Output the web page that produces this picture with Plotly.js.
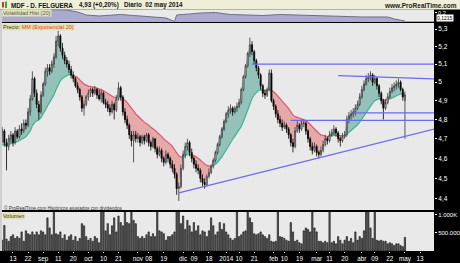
<!DOCTYPE html>
<html><head><meta charset="utf-8">
<script src="https://cdn.plot.ly/plotly-3.0.1.min.js"></script>
<style>html,body{margin:0;padding:0;background:#000;}#chart{width:460px;height:263px;}</style>
</head><body><div id="chart"></div>
<script>
const dates = [
"2013-08-06","2013-08-07","2013-08-08","2013-08-09","2013-08-12","2013-08-13","2013-08-14","2013-08-15","2013-08-16","2013-08-19","2013-08-20","2013-08-21","2013-08-22","2013-08-23","2013-08-26","2013-08-27","2013-08-28","2013-08-29","2013-08-30",
"2013-09-02","2013-09-03","2013-09-04","2013-09-05","2013-09-06","2013-09-09","2013-09-10","2013-09-11","2013-09-12","2013-09-13","2013-09-16","2013-09-17","2013-09-18","2013-09-19","2013-09-20","2013-09-23","2013-09-24","2013-09-25","2013-09-26","2013-09-27","2013-09-30",
"2013-10-01","2013-10-02","2013-10-03","2013-10-04","2013-10-07","2013-10-08","2013-10-09","2013-10-10","2013-10-11","2013-10-14","2013-10-15","2013-10-16","2013-10-17","2013-10-18","2013-10-21","2013-10-22","2013-10-23","2013-10-24","2013-10-25","2013-10-28","2013-10-29","2013-10-30","2013-10-31",
"2013-11-01","2013-11-04","2013-11-05","2013-11-06","2013-11-07","2013-11-08","2013-11-11","2013-11-12","2013-11-13","2013-11-14","2013-11-15","2013-11-18","2013-11-19","2013-11-20","2013-11-21","2013-11-22","2013-11-25","2013-11-26","2013-11-27","2013-11-28","2013-11-29",
"2013-12-02","2013-12-03","2013-12-04","2013-12-05","2013-12-06","2013-12-09","2013-12-10","2013-12-11","2013-12-12","2013-12-13","2013-12-16","2013-12-17","2013-12-18","2013-12-19","2013-12-20","2013-12-23","2013-12-24","2013-12-27","2013-12-30","2013-12-31",
"2014-01-02","2014-01-03","2014-01-06","2014-01-07","2014-01-08","2014-01-09","2014-01-10","2014-01-13","2014-01-14","2014-01-15","2014-01-16","2014-01-17","2014-01-20","2014-01-21","2014-01-22","2014-01-23","2014-01-24","2014-01-27","2014-01-28","2014-01-29","2014-01-30","2014-01-31",
"2014-02-03","2014-02-04","2014-02-05","2014-02-06","2014-02-07","2014-02-10","2014-02-11","2014-02-12","2014-02-13","2014-02-14","2014-02-17","2014-02-18","2014-02-19","2014-02-20","2014-02-21","2014-02-24","2014-02-25","2014-02-26","2014-02-27","2014-02-28",
"2014-03-03","2014-03-04","2014-03-05","2014-03-06","2014-03-07","2014-03-10","2014-03-11","2014-03-12","2014-03-13","2014-03-14","2014-03-17","2014-03-18","2014-03-19","2014-03-20","2014-03-21","2014-03-24","2014-03-25","2014-03-26","2014-03-27","2014-03-28","2014-03-31",
"2014-04-01","2014-04-02","2014-04-03","2014-04-04","2014-04-07","2014-04-08","2014-04-09","2014-04-10","2014-04-11","2014-04-14","2014-04-15","2014-04-16","2014-04-17","2014-04-22","2014-04-23","2014-04-24","2014-04-25","2014-04-28","2014-04-29","2014-04-30",
"2014-05-02"];

const openP = [
4.72,4.74,4.68,4.66,4.70,4.72,4.68,4.74,4.71,4.75,
4.74,4.78,4.77,4.84,4.91,5.02,4.94,4.88,4.84,4.93,
4.99,5.06,5.08,5.06,5.10,5.14,5.23,5.26,5.19,5.15,
5.12,5.10,5.07,5.04,5.02,4.98,4.96,4.92,4.86,4.88,
4.92,4.94,4.96,4.94,4.96,4.93,4.91,4.94,4.89,4.88,
4.86,4.84,4.88,4.85,4.91,4.97,4.92,4.84,4.80,4.77,
4.72,4.69,4.72,4.70,4.71,4.68,4.71,4.69,4.72,4.68,
4.66,4.70,4.65,4.62,4.64,4.60,4.58,4.62,4.60,4.57,
4.55,4.52,4.45,4.46,4.55,4.62,4.66,4.68,4.63,4.60,
4.57,4.55,4.54,4.50,4.48,4.47,4.51,4.53,4.56,4.59,
4.63,4.67,4.71,4.75,4.79,4.83,4.85,4.86,4.84,4.86,
4.87,4.89,4.96,5.03,5.09,5.16,5.21,5.17,5.12,5.08,
5.04,4.98,4.94,4.93,4.96,5.05,4.90,4.87,4.83,4.80,
4.78,4.76,4.77,4.75,4.72,4.68,4.66,4.74,4.77,4.75,
4.78,4.78,4.74,4.70,4.66,4.64,4.66,4.63,4.62,4.64,
4.67,4.70,4.69,4.72,4.73,4.75,4.73,4.70,4.69,4.71,
4.72,4.80,4.82,4.83,4.84,4.86,4.88,4.92,4.96,4.99,
5.02,5.03,5.04,5.00,5.02,4.98,4.94,4.90,4.86,4.89,
4.92,4.95,4.97,4.98,4.99,5.00,4.96,4.90];
const highP = [
4.76,4.75,4.70,4.72,4.74,4.73,4.76,4.75,4.77,4.78,
4.80,4.80,4.86,4.93,5.06,5.03,4.96,4.90,4.95,5.00,
5.08,5.10,5.10,5.12,5.16,5.26,5.29,5.27,5.22,5.17,
5.14,5.12,5.09,5.06,5.03,5.00,4.97,4.93,4.90,4.93,
4.96,4.97,4.97,4.98,4.97,4.96,4.96,4.95,4.91,4.90,
4.88,4.90,4.89,4.93,5.00,4.98,4.93,4.86,4.82,4.78,
4.74,4.74,4.74,4.73,4.72,4.72,4.72,4.73,4.73,4.69,
4.71,4.70,4.66,4.66,4.65,4.61,4.64,4.63,4.61,4.59,
4.57,4.53,4.48,4.57,4.64,4.68,4.70,4.69,4.65,4.61,
4.59,4.57,4.55,4.52,4.50,4.52,4.55,4.57,4.60,4.64,
4.68,4.72,4.76,4.80,4.84,4.87,4.88,4.87,4.87,4.89,
4.91,4.97,5.04,5.10,5.17,5.25,5.23,5.18,5.13,5.09,
5.05,4.99,4.96,4.97,5.07,5.07,4.91,4.88,4.85,4.82,
4.80,4.79,4.78,4.76,4.73,4.70,4.76,4.79,4.78,4.80,
4.80,4.79,4.75,4.71,4.68,4.68,4.67,4.64,4.66,4.69,
4.72,4.71,4.74,4.75,4.77,4.76,4.74,4.71,4.73,4.74,
4.82,4.84,4.85,4.86,4.88,4.90,4.94,4.98,5.01,5.04,
5.05,5.06,5.05,5.04,5.03,4.99,4.95,4.91,4.91,4.94,
4.97,4.99,5.00,5.01,5.02,5.01,4.97,4.95];
const lowP = [
4.68,4.66,4.54,4.64,4.68,4.66,4.67,4.70,4.70,4.72,
4.73,4.75,4.76,4.82,4.90,4.92,4.86,4.80,4.83,4.92,
4.98,5.03,5.04,5.05,5.08,5.13,5.20,5.17,5.13,5.10,
5.08,5.05,5.02,5.00,4.97,4.94,4.90,4.84,4.82,4.87,
4.90,4.92,4.92,4.93,4.91,4.90,4.89,4.88,4.86,4.84,
4.82,4.83,4.80,4.84,4.90,4.90,4.82,4.78,4.75,4.70,
4.66,4.58,4.68,4.68,4.66,4.67,4.67,4.68,4.66,4.64,
4.65,4.63,4.60,4.61,4.58,4.56,4.57,4.58,4.55,4.53,
4.50,4.42,4.39,4.45,4.54,4.60,4.64,4.61,4.58,4.55,
4.53,4.52,4.48,4.46,4.45,4.46,4.50,4.52,4.55,4.58,
4.62,4.66,4.70,4.74,4.78,4.81,4.83,4.82,4.83,4.84,
4.86,4.88,4.95,5.02,5.08,5.14,5.15,5.10,5.06,5.02,
4.96,4.92,4.91,4.92,4.95,4.89,4.85,4.81,4.78,4.76,
4.74,4.75,4.73,4.70,4.66,4.63,4.65,4.73,4.73,4.74,
4.76,4.72,4.68,4.64,4.62,4.63,4.61,4.60,4.61,4.63,
4.66,4.67,4.68,4.71,4.72,4.71,4.68,4.66,4.68,4.70,
4.71,4.78,4.80,4.81,4.82,4.85,4.87,4.91,4.95,4.98,
5.00,5.01,4.98,4.99,4.96,4.92,4.88,4.80,4.85,4.88,
4.91,4.94,4.95,4.96,4.97,4.95,4.90,4.70];
const closeP = [
4.74,4.68,4.66,4.70,4.72,4.68,4.74,4.71,4.75,4.74,
4.78,4.77,4.84,4.91,5.02,4.94,4.88,4.84,4.93,4.99,
5.06,5.08,5.06,5.10,5.14,5.23,5.26,5.19,5.15,5.12,
5.10,5.07,5.04,5.02,4.98,4.96,4.92,4.86,4.88,4.92,
4.94,4.96,4.94,4.96,4.93,4.91,4.94,4.89,4.88,4.86,
4.84,4.88,4.85,4.91,4.97,4.92,4.84,4.80,4.77,4.72,
4.69,4.72,4.70,4.71,4.68,4.71,4.69,4.72,4.68,4.66,
4.70,4.65,4.62,4.64,4.60,4.58,4.62,4.60,4.57,4.55,
4.52,4.45,4.46,4.55,4.62,4.66,4.68,4.63,4.60,4.57,
4.55,4.54,4.50,4.48,4.47,4.51,4.53,4.56,4.59,4.63,
4.67,4.71,4.75,4.79,4.83,4.85,4.86,4.84,4.86,4.87,
4.89,4.96,5.03,5.09,5.16,5.21,5.17,5.12,5.08,5.04,
4.98,4.94,4.93,4.96,5.05,4.90,4.87,4.83,4.80,4.78,
4.76,4.77,4.75,4.72,4.68,4.66,4.74,4.77,4.75,4.78,
4.78,4.74,4.70,4.66,4.64,4.66,4.63,4.62,4.64,4.67,
4.70,4.69,4.72,4.73,4.75,4.73,4.70,4.69,4.71,4.72,
4.80,4.82,4.83,4.84,4.86,4.88,4.92,4.96,4.99,5.02,
5.03,5.04,5.00,5.02,4.98,4.94,4.90,4.86,4.89,4.92,
4.95,4.97,4.98,4.99,5.00,4.96,4.92,4.93];
// volume in thousands of shares
const volumeK = [
300,710,330,270,400,450,350,400,350,530,
270,560,480,450,530,450,530,450,560,530,
450,920,640,450,1300,480,450,530,350,450,
300,400,450,300,400,270,350,760,700,400,
300,350,270,400,350,230,1300,1200,560,760,
450,700,920,530,970,790,700,1250,790,760,
1300,850,760,400,350,400,350,450,530,400,
480,400,1200,560,530,480,300,400,400,450,
530,1400,1300,760,970,600,850,700,530,790,
560,700,450,560,530,400,560,920,700,450,
530,790,600,760,530,450,350,300,350,1250,
400,450,530,560,1300,920,790,480,450,480,
530,450,400,350,450,270,250,270,1200,400,
380,350,300,270,790,530,270,300,230,200,
560,640,600,530,1200,640,530,270,270,230,
270,230,1100,230,270,200,400,300,200,300,
400,270,350,230,530,300,400,350,560,1250,
1200,640,350,1150,300,280,300,270,270,200,
230,200,150,200,200,150,120,380];
// historical volatility (20)
const volDates = ["2013-08-06","2013-08-16","2013-09-02","2013-09-10","2013-09-17","2013-09-24","2013-09-30","2013-10-08","2013-10-15","2013-10-22","2013-10-30","2013-11-11","2013-11-20","2013-11-26","2013-11-27","2013-12-05","2013-12-12","2013-12-23","2014-01-06","2014-01-16","2014-01-27","2014-02-06","2014-02-18","2014-02-28","2014-03-11","2014-03-20","2014-04-01","2014-04-17","2014-04-24","2014-05-02"];
const volatility = [0.178,0.203,0.246,0.250,0.246,0.212,0.161,0.144,0.161,0.169,0.152,0.127,0.110,0.050,0.161,0.178,0.195,0.203,0.169,0.161,0.152,0.169,0.161,0.144,0.135,0.127,0.127,0.127,0.093,0.058];
const emaPeriod = 20;
const emaSeed = 4.66;
// drawn trend lines
const lineA_dates = ["2014-01-20","2014-05-23"], lineA_prices = [5.10,5.10];
const lineB_dates = ["2014-03-17","2014-05-23"], lineB_prices = [5.036,5.018];
const lineC_dates = ["2014-03-26","2014-05-23"], lineC_prices = [4.835,4.835];
const lineD_dates = ["2014-02-13","2014-05-23"], lineD_prices = [4.795,4.795];
const lineE_dates = ["2013-11-28","2014-05-23"], lineE_prices = [4.429,4.754];
// axis ticks
const tickDates = ["2013-08-13","2013-08-22","2013-09-02","2013-09-11","2013-09-20","2013-10-01","2013-10-10","2013-10-21","2013-11-01","2013-11-08","2013-11-19","2013-12-02","2013-12-09","2013-12-18","2014-01-02","2014-01-10","2014-01-21","2014-02-03","2014-02-10","2014-02-19","2014-03-03","2014-03-11","2014-03-20","2014-04-01","2014-04-09","2014-04-22","2014-05-02","2014-05-13"];
const tickText = ["13","22","sep","11","20","oct","10","21","nov","08","19","dic","09","18","2014","10","21","feb","10","19","mar","11","20","abr","09","22","may","13"];
const priceTicks = [4.4,4.5,4.6,4.7,4.8,4.9,5.0,5.1,5.2,5.3];
const priceTickText = ["4,4","4,5","4,6","4,7","4,8","4,9","5","5,1","5,2","5,3"];
const holidays = ["2013-12-25","2013-12-26","2014-01-01","2014-04-18","2014-04-21","2014-05-01"];

// ---- EMA ----
const alpha = 2/(emaPeriod+1);
const ema = []; let prev = emaSeed;
for (let i=0;i<closeP.length;i++){ prev = prev + alpha*(closeP[i]-prev); ema.push(prev); }

const DAY = 86400000;
function shiftDate(d, frac){ const t = Date.parse(d+"T00:00:00Z") + frac*DAY; return new Date(t).toISOString().slice(0,19).replace("T"," "); }

const segs = []; let cur = null;
for (let i=0;i<closeP.length;i++){
  const d = closeP[i]-ema[i]; const up = d>=0;
  if(!cur){ cur={up:up,x:[dates[i]],e:[ema[i]],c:[closeP[i]]}; continue; }
  if(up===cur.up){ cur.x.push(dates[i]); cur.e.push(ema[i]); cur.c.push(closeP[i]); }
  else {
    const d0 = closeP[i-1]-ema[i-1]; const t = d0/(d0-d);
    const xc = shiftDate(dates[i-1], t); const yc = ema[i-1]+t*(ema[i]-ema[i-1]);
    cur.x.push(xc); cur.e.push(yc); cur.c.push(yc); segs.push(cur);
    cur = {up:up,x:[xc,dates[i]],e:[yc,ema[i]],c:[yc,closeP[i]]};
  }
}
segs.push(cur);

const GREEN_FILL = "#94c1b9", RED_FILL = "#e6a9aa", GREEN_LINE = "#3cb48e", RED_LINE = "#e0566e";
const traces = [];
traces.push({x:volDates, y:volatility, type:"scatter", mode:"lines", yaxis:"y2", xaxis:"x",
  line:{color:"#6e6e80", width:1}, fill:"tozeroy", fillcolor:"#aaaad0", hoverinfo:"skip"});
segs.forEach(s=>{
  traces.push({x:s.x, y:s.e, type:"scatter", mode:"lines", yaxis:"y", line:{width:0, color:"rgba(0,0,0,0)"}, hoverinfo:"skip"});
  traces.push({x:s.x, y:s.c, type:"scatter", mode:"lines", yaxis:"y", line:{width:0, color:"rgba(0,0,0,0)"}, fill:"tonexty", fillcolor: s.up?GREEN_FILL:RED_FILL, hoverinfo:"skip"});
});
segs.forEach(s=>{
  traces.push({x:s.x, y:s.e, type:"scatter", mode:"lines", yaxis:"y", line:{width:1.2, color: s.up?GREEN_LINE:RED_LINE}, hoverinfo:"skip"});
});
traces.push({type:"candlestick", x:dates, open:openP, high:highP, low:lowP, close:closeP, xaxis:"x", yaxis:"y4",
  increasing:{fillcolor:"#ffffff", line:{color:"#333333", width:0.8}},
  decreasing:{fillcolor:"#000000", line:{color:"#000000", width:0.8}},
  whiskerwidth:0, hoverinfo:"skip"});
[[lineA_dates,lineA_prices],[lineB_dates,lineB_prices],[lineC_dates,lineC_prices],[lineD_dates,lineD_prices],[lineE_dates,lineE_prices]].forEach(l=>{
  traces.push({x:l[0], y:l[1], type:"scatter", mode:"lines", yaxis:"y4", line:{color:"#6b6bf0", width:1.2}, hoverinfo:"skip"});
});
traces.push({x:dates, y:volumeK.map(v=>v*1000), type:"bar", yaxis:"y3", xaxis:"x",
  marker:{color:"#6a6a6a", line:{color:"#000000", width:0.6}}, width:0.6*DAY, hoverinfo:"skip"});

const H = 263, W = 460;
const py = p => 1 - p/H; const px = p => p/W;
const font = "Liberation Sans, Arial, sans-serif";
const priceRange = [Math.log10(4.347), Math.log10(5.335)];
const yTickCommon = {side:"right", ticks:"outside", ticklen:2, tickcolor:"#ffffff", tickfont:{family:font, size:6.5, color:"#ffffff"}, showgrid:false, zeroline:false, showline:false, fixedrange:true};

const layout = {
  width:W, height:H, margin:{l:0,r:0,t:0,b:0}, paper_bgcolor:"#000000", plot_bgcolor:"#e9e9e9",
  showlegend:false, separators:",.", bargap:0,
  xaxis:{type:"date", domain:[px(2), px(434)], anchor:"y3", range:["2013-08-05 21:36","2014-05-21 12:00"],
    rangeslider:{visible:false},
    rangebreaks:[{bounds:["sat","mon"]},{values:holidays}],
    tickmode:"array", tickvals:tickDates, ticktext:tickText, tickangle:0, ticks:"outside", ticklen:1, tickcolor:"#ffffff",
    tickfont:{family:font, size:6.3, color:"#ffffff"}, showgrid:false, zeroline:false, showline:false, fixedrange:true},
  yaxis:Object.assign({domain:[py(210), py(23)], type:"log", range:priceRange, anchor:"x", tickmode:"array", tickvals:priceTicks, ticktext:priceTickText}, yTickCommon),
  yaxis4:Object.assign({}, yTickCommon, {overlaying:"y", type:"log", range:priceRange, anchor:"x", showticklabels:false, ticks:""}),
  yaxis2:Object.assign({domain:[py(21.7), py(9.5)], range:[0.046,0.255], anchor:"x", tickmode:"array", tickvals:[0.2], ticktext:["0,2"]}, yTickCommon, {tickfont:{family:font, size:5.5, color:"#ffffff"}}),
  yaxis3:Object.assign({domain:[py(251), py(212)], range:[0,1083000], anchor:"x", tickmode:"array", tickvals:[500000,1000000], ticktext:["500.000","1.000K"]}, yTickCommon, {tickfont:{family:font, size:6, color:"#ffffff"}}),
  shapes:[
    {type:"rect", xref:"paper", yref:"paper", x0:0, x1:1, y0:py(9.5), y1:1, fillcolor:"#efefd9", line:{width:0}, layer:"below"},
    {type:"rect", xref:"paper", yref:"paper", x0:0, x1:px(2), y0:py(251), y1:py(9.5), fillcolor:"#cfcfcf", line:{width:0}, layer:"below"},
    {type:"rect", xref:"paper", yref:"paper", x0:px(2), x1:px(4), y0:py(7.5), y1:py(2), fillcolor:"#d03030", line:{width:0}},
    {type:"rect", xref:"paper", yref:"paper", x0:px(5), x1:px(7), y0:py(8), y1:py(1.5), fillcolor:"#30b030", line:{width:0}}
  ],
  annotations:[
    {xref:"paper", yref:"paper", x:px(9), y:py(5), xanchor:"left", yanchor:"middle", showarrow:false, text:"<b>MDF - D. FELGUERA</b>", font:{family:font, size:6.3, color:"#111"}},
    {xref:"paper", yref:"paper", x:px(77), y:py(5), xanchor:"left", yanchor:"middle", showarrow:false, text:"<b>4,93 (+0,20%)</b>", font:{family:font, size:6.3, color:"#111"}},
    {xref:"paper", yref:"paper", x:px(122), y:py(5), xanchor:"left", yanchor:"middle", showarrow:false, text:"<b>Diario  02 may 2014</b>", font:{family:font, size:6.3, color:"#111"}},
    {xref:"paper", yref:"paper", x:px(459), y:py(5), xanchor:"right", yanchor:"middle", showarrow:false, text:"<b>www.ProRealTime.com</b>", font:{family:font, size:6.5, color:"#222"}},
    {xref:"paper", yref:"paper", x:px(2), y:py(13), xanchor:"left", yanchor:"middle", showarrow:false, text:"Volatilidad Hist (20)", font:{family:font, size:5.5, color:"#555"}, bgcolor:"#e3e3b4", borderpad:0},
    {xref:"paper", yref:"paper", x:px(2), y:py(27), xanchor:"left", yanchor:"middle", showarrow:false, text:"Precio: <span style='color:#e03a3a'>MM (Exponencial 20)</span>", font:{family:font, size:5.5, color:"#333"}, bgcolor:"#e3e3b4", borderpad:0},
    {xref:"paper", yref:"paper", x:px(2), y:py(207.5), xanchor:"left", yanchor:"middle", showarrow:false, text:"© ProRealTime.com Históricos ajustados con dividendos", font:{family:font, size:4.7, color:"#333"}},
    {xref:"paper", yref:"paper", x:px(2), y:py(215.5), xanchor:"left", yanchor:"middle", showarrow:false, text:"Volumen", font:{family:font, size:5.5, color:"#333"}, bgcolor:"#e3e3b4", borderpad:0},
    {xref:"paper", yref:"paper", x:px(436), y:py(18.3), xanchor:"left", yanchor:"middle", showarrow:false, text:"0,1215", font:{family:font, size:5, color:"#000"}, bgcolor:"#ffffff", borderpad:0}
  ]
};
Plotly.newPlot("chart", traces, layout, {staticPlot:true, displayModeBar:false});
</script></body></html>
